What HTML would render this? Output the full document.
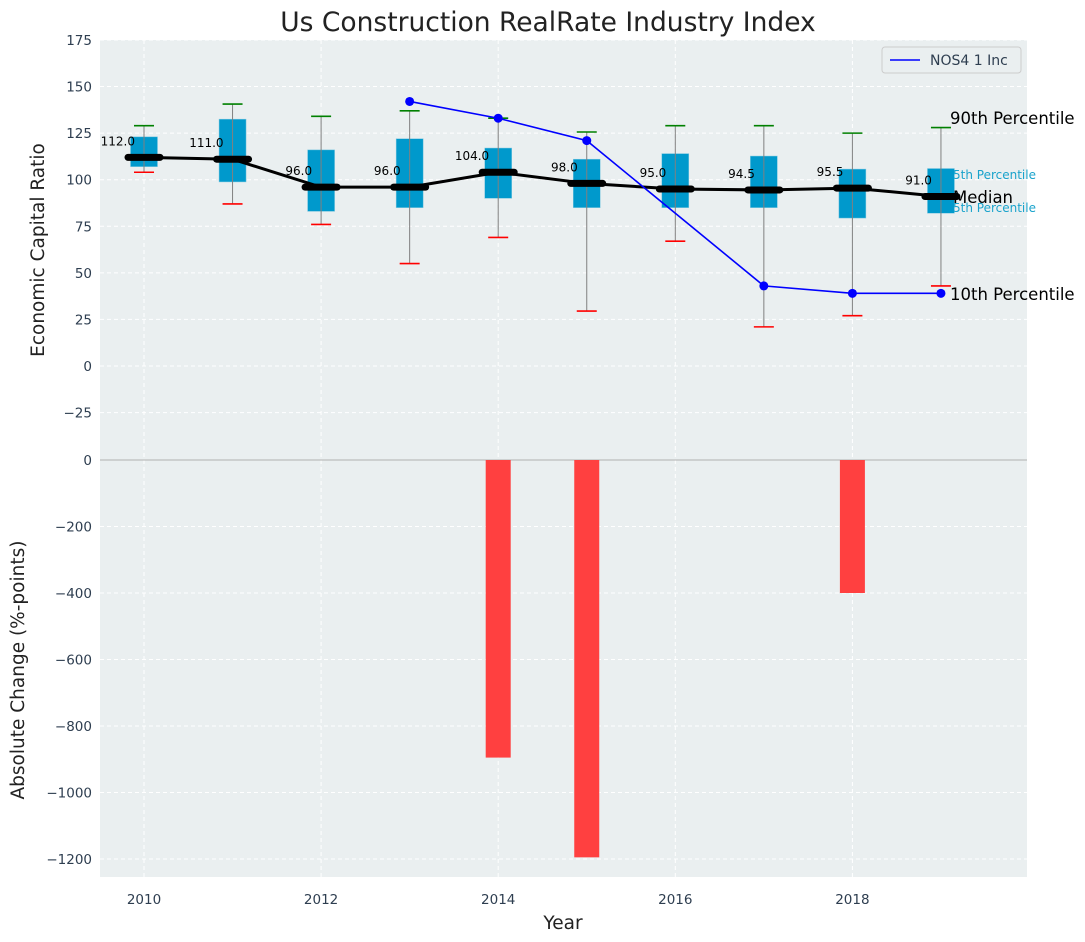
<!DOCTYPE html>
<html><head><meta charset="utf-8"><style>
body{margin:0;background:#fff;}
svg{display:block;font-family:"DejaVu Sans","Liberation Sans",sans-serif;}
</style></head><body>
<svg id="c" width="1085" height="942"></svg>
<script>
const years=[2010,2011,2012,2013,2014,2015,2016,2017,2018,2019];
const medians=[112,111,96,96,104,98,95,94.5,95.5,91];
const q1=[107,98.8,83,85,90,85,85,85,79.4,82];
const q3=[123,132.5,116,122,117,111,114,112.7,105.7,106];
const p10=[104,87,76,55,69,29.5,67,21,27,43];
const p90=[129,140.6,134,137,133,125.6,129,129,125,128];
const nos4=[null,null,null,142,133,121,null,43,39,39];
const changes=[0,0,0,0,-895,-1195,0,0,-400,0];
const topTicks=[175,150,125,100,75,50,25,0,-25];
const botTicks=[0,-200,-400,-600,-800,-1000,-1200];
const xTicks=[2010,2012,2014,2016,2018];

const NS="http://www.w3.org/2000/svg";
const svg=document.getElementById('c');
function el(t,a,p){const e=document.createElementNS(NS,t);for(const k in a)e.setAttribute(k,a[k]);(p||svg).appendChild(e);return e;}
const X0=100,X1=1027,TY0=40,TY1=460,BY1=877;
const x=v=>144+(v-2010)*88.55;
const yt=v=>366-v*1.863;
function ybf(v){return 460-v*0.3325;}

let r=el('rect',{x:X0,y:TY0,width:X1-X0,height:TY1-TY0,fill:'#eaeff0'});

r=el('rect',{x:X0,y:TY1,width:X1-X0,height:BY1-TY1,fill:'#eaeff0'});


topTicks.forEach(t=>{const yy=yt(t);el('line',{x1:X0,x2:X1,y1:yy,y2:yy,stroke:'#fff','stroke-dasharray':'4,3','stroke-width':1});
 const tx=el('text',{x:X0-8,y:yy+5,'text-anchor':'end','font-size':13.5,fill:'#2e3e50'});tx.textContent=t<0?'\u2212'+(-t):t;
 });
botTicks.forEach(t=>{const yy=ybf(t);el('line',{x1:X0,x2:X1,y1:yy,y2:yy,stroke:'#fff','stroke-dasharray':'4,3','stroke-width':1});
 const tx=el('text',{x:X0-8,y:yy+5,'text-anchor':'end','font-size':13.5,fill:'#2e3e50'});tx.textContent=t<0?'\u2212'+(-t):t;
 });
xTicks.forEach(t=>{el('line',{x1:x(t),x2:x(t),y1:TY0,y2:BY1,stroke:'#fff','stroke-dasharray':'4,3','stroke-width':1});
 const tx=el('text',{x:x(t),y:904,'text-anchor':'middle','font-size':13.5,fill:'#2e3e50'});tx.textContent=t;
 });
el('line',{x1:X0,x2:X1,y1:460,y2:460,stroke:'#b0b0b0','stroke-width':1});

years.forEach((yr,i)=>{if(changes[i]===0)return;const y0=ybf(0),y1=ybf(changes[i]);
 const b=el('rect',{x:x(yr)-12.5,y:y0,width:25,height:y1-y0,fill:'#ff4040'});
 });

years.forEach((yr,i)=>{const cx=x(yr);
 const g=el('g',{});
 el('rect',{x:cx-13.5,y:yt(q3[i]),width:27,height:yt(q1[i])-yt(q3[i]),fill:'#0099cc',stroke:'#7fc8e0','stroke-width':0.5},g);
 el('line',{x1:cx,x2:cx,y1:yt(p90[i]),y2:yt(p10[i]),stroke:'#808080','stroke-width':1},g);
 el('line',{x1:cx-10,x2:cx+10,y1:yt(p90[i]),y2:yt(p90[i]),stroke:'green','stroke-width':1.6},g);
 el('line',{x1:cx-10,x2:cx+10,y1:yt(p10[i]),y2:yt(p10[i]),stroke:'red','stroke-width':1.6},g);
});
let d='';years.forEach((yr,i)=>{d+=(i?'L':'M')+x(yr)+','+yt(medians[i]);});
let ml=el('path',{d:d,fill:'none',stroke:'#000','stroke-width':3});

years.forEach((yr,i)=>{const cx=x(yr),yy=yt(medians[i]);
 const s=el('line',{x1:cx-16,x2:cx+16,y1:yy,y2:yy,stroke:'#000','stroke-width':7,'stroke-linecap':'round'});
 
 const t=el('text',{x:cx-9,y:yy-12,'text-anchor':'end','font-size':12,fill:'#000'});t.textContent=medians[i].toFixed(1);
 });

let pd='';let first=true;years.forEach((yr,i)=>{if(nos4[i]==null)return;pd+=(first?'M':'L')+x(yr)+','+yt(nos4[i]);first=false;});
let nl=el('path',{d:pd,fill:'none',stroke:'blue','stroke-width':1.6});

years.forEach((yr,i)=>{if(nos4[i]==null)return;const c=el('circle',{cx:x(yr),cy:yt(nos4[i]),r:4.5,fill:'blue'});
 });

function ann(txt,xx,yy,sz,col,name){const t=el('text',{x:xx,y:yy,'font-size':sz,fill:col});t.textContent=txt;return t;}
ann('90th Percentile',950,124,16.5,'#000','p90-annotation');
ann('10th Percentile',950,300,16.5,'#000','p10-annotation');
ann('5th Percentile',953,179,12,'#1aa3cc','p75-annotation');
ann('5th Percentile',953,212,12,'#1aa3cc','p25-annotation');
ann('Median',953,203,16.5,'#000','median-annotation');

const lg=el('g',{});
el('rect',{x:882,y:47,width:139,height:26,rx:3,fill:'#eaeff0',stroke:'#ccc'},lg);
el('line',{x1:890,x2:920,y1:60,y2:60,stroke:'blue','stroke-width':1.6},lg);
const lt=el('text',{x:930,y:65,'font-size':14,fill:'#2e3e50'},lg);lt.textContent='NOS4 1 Inc';

let t=el('text',{x:548,y:31,'text-anchor':'middle','font-size':26.5,fill:'#222'});t.textContent='Us Construction RealRate Industry Index';

t=el('text',{x:563,y:929,'text-anchor':'middle','font-size':18.5,fill:'#222'});t.textContent='Year';

t=el('text',{x:0,y:0,'text-anchor':'middle','font-size':18.5,fill:'#222',transform:'translate(44,250) rotate(-90)'});t.textContent='Economic Capital Ratio';

t=el('text',{x:0,y:0,'text-anchor':'middle','font-size':18.5,fill:'#222',transform:'translate(24,670) rotate(-90)'});t.textContent='Absolute Change (%-points)';

</script>
</body></html>
